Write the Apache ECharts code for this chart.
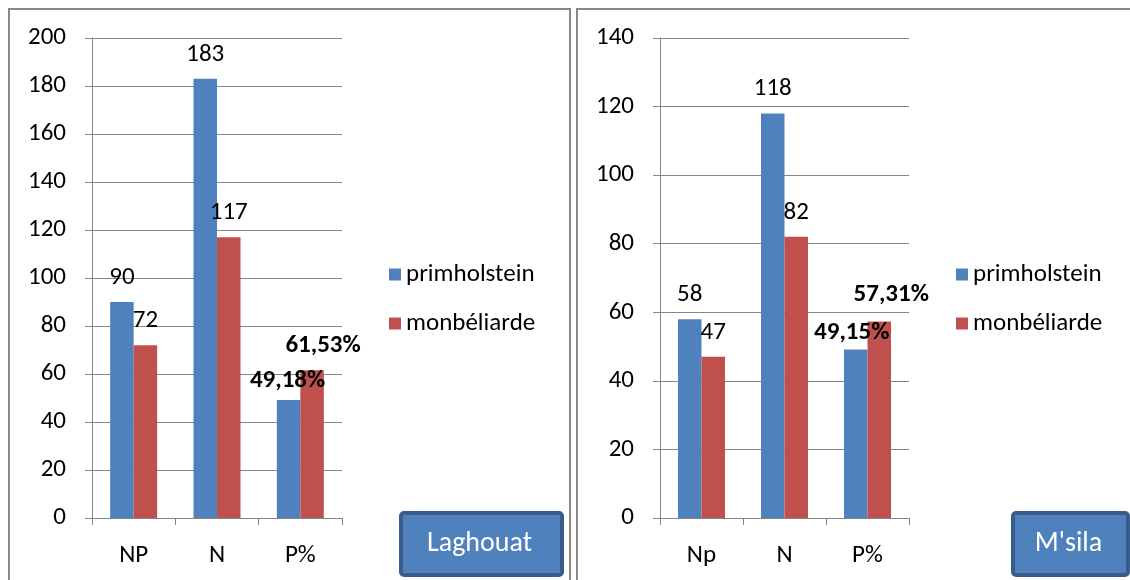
<!DOCTYPE html>
<html>
<head>
<meta charset="utf-8">
<script src="https://cdn.jsdelivr.net/npm/echarts@6/dist/echarts.min.js"></script>
<style>
  html, body { margin: 0; padding: 0; background: #fff; }
  #chart { width: 1130px; height: 580px; }
</style>
</head>
<body>
<div id="chart"></div>
<script>
// Reproductive results by breed, two regions
const categoriesLaghouat = ['NP', 'N', 'P%'];
const categoriesMsila = ['Np', 'N', 'P%'];
const seriesNames = ['primholstein', 'monbéliarde'];
const laghouatPrim = [90, 183, 49.18];
const laghouatMonb = [72, 117, 61.53];
const msilaPrim = [58, 118, 49.15];
const msilaMonb = [47, 82, 57.31];
const regionNames = ['Laghouat', "M'sila"];

const FONT = 'Carlito, Calibri, Lato, sans-serif';
const FS = 25;
const BLUE = '#4f81bd';
const RED = '#c0504d';
const GRID_GRAY = '#868686';

// percentage point (third category) gets a bold label written with a decimal comma
function pctFmt(v) { return v.toFixed(2).replace('.', ',') + '%'; }

function barData(values, pctLabel) {
  return values.map(function (v, i) {
    if (i === 2) {
      return {
        value: v,
        label: Object.assign({
          fontWeight: 'bold',
          formatter: function (p) { return pctFmt(p.value); }
        }, pctLabel)
      };
    }
    return v;
  });
}

function baseLabel() {
  return { show: true, position: 'top', distance: 12, color: '#000', fontSize: FS, fontFamily: FONT };
}

function xAxis(idx, cats) {
  return {
    type: 'category', gridIndex: idx, data: cats,
    axisLine: { lineStyle: { color: GRID_GRAY, width: 1 } },
    axisTick: { show: true, length: 7, lineStyle: { color: GRID_GRAY } },
    axisLabel: { color: '#000', fontSize: FS, fontFamily: FONT, margin: 25 }
  };
}

function yAxis(idx, max) {
  return {
    type: 'value', gridIndex: idx, min: 0, max: max, interval: 20,
    axisLine: { show: true, lineStyle: { color: GRID_GRAY, width: 1 } },
    axisTick: { show: true, length: 7, lineStyle: { color: GRID_GRAY } },
    splitLine: { lineStyle: { color: GRID_GRAY, width: 1 } },
    axisLabel: { color: '#000', fontSize: FS, fontFamily: FONT, margin: 26 }
  };
}

function legend(left) {
  return {
    orient: 'vertical', left: left, top: 257,
    itemWidth: 12, itemHeight: 12, itemGap: 24, icon: 'rect',
    data: seriesNames,
    textStyle: { color: '#000', fontSize: FS, fontFamily: FONT, padding: [0, 0, 0, 0] }
  };
}

function regionBox(x, w, text) {
  return {
    type: 'group',
    children: [
      { type: 'rect', shape: { x: x, y: 513, width: w, height: 62, r: 3 },
        style: { fill: BLUE, stroke: '#385d8a', lineWidth: 4 } },
      { type: 'text', x: x + w / 2 - 2, y: 544,
        style: { text: text, fill: '#fff', fontSize: 28, fontFamily: FONT, align: 'center', verticalAlign: 'middle' } }
    ]
  };
}

const chart = echarts.init(document.getElementById('chart'), null, { renderer: 'canvas' });

const barCommon = { type: 'bar', barGap: '0%', barWidth: 23.5 };

chart.setOption({
  animation: false,
  textStyle: { fontFamily: FONT },
  grid: [
    { left: 92, top: 38, width: 250, height: 480 },
    { left: 660, top: 38, width: 249, height: 480 }
  ],
  xAxis: [xAxis(0, categoriesLaghouat), xAxis(1, categoriesMsila)],
  yAxis: [yAxis(0, 200), yAxis(1, 140)],
  legend: [legend(384), legend(951)],
  series: [
    Object.assign({}, barCommon, {
      name: seriesNames[0], xAxisIndex: 0, yAxisIndex: 0, itemStyle: { color: BLUE },
      label: baseLabel(), data: barData(laghouatPrim, { distance: 7, offset: [-1, 0] })
    }),
    Object.assign({}, barCommon, {
      name: seriesNames[1], xAxisIndex: 0, yAxisIndex: 0, itemStyle: { color: RED },
      label: baseLabel(), data: barData(laghouatMonb, { distance: 12, offset: [11, 0] })
    }),
    Object.assign({}, barCommon, {
      name: seriesNames[0], xAxisIndex: 1, yAxisIndex: 1, itemStyle: { color: BLUE },
      label: baseLabel(), data: barData(msilaPrim, { distance: 4, offset: [-4, 0] })
    }),
    Object.assign({}, barCommon, {
      name: seriesNames[1], xAxisIndex: 1, yAxisIndex: 1, itemStyle: { color: RED },
      label: baseLabel(), data: barData(msilaMonb, { distance: 14, offset: [12, 0] })
    })
  ],
  graphic: [
    // panel frames
    { type: 'rect', shape: { x: 9, y: 9, width: 561, height: 600 },
      style: { fill: 'none', stroke: '#888', lineWidth: 2 }, silent: true },
    { type: 'rect', shape: { x: 577, y: 9, width: 600, height: 600 },
      style: { fill: 'none', stroke: '#888', lineWidth: 2 }, silent: true },
    regionBox(401, 161, regionNames[0]),
    regionBox(1013, 115, regionNames[1])
  ]
});
</script>
</body>
</html>
